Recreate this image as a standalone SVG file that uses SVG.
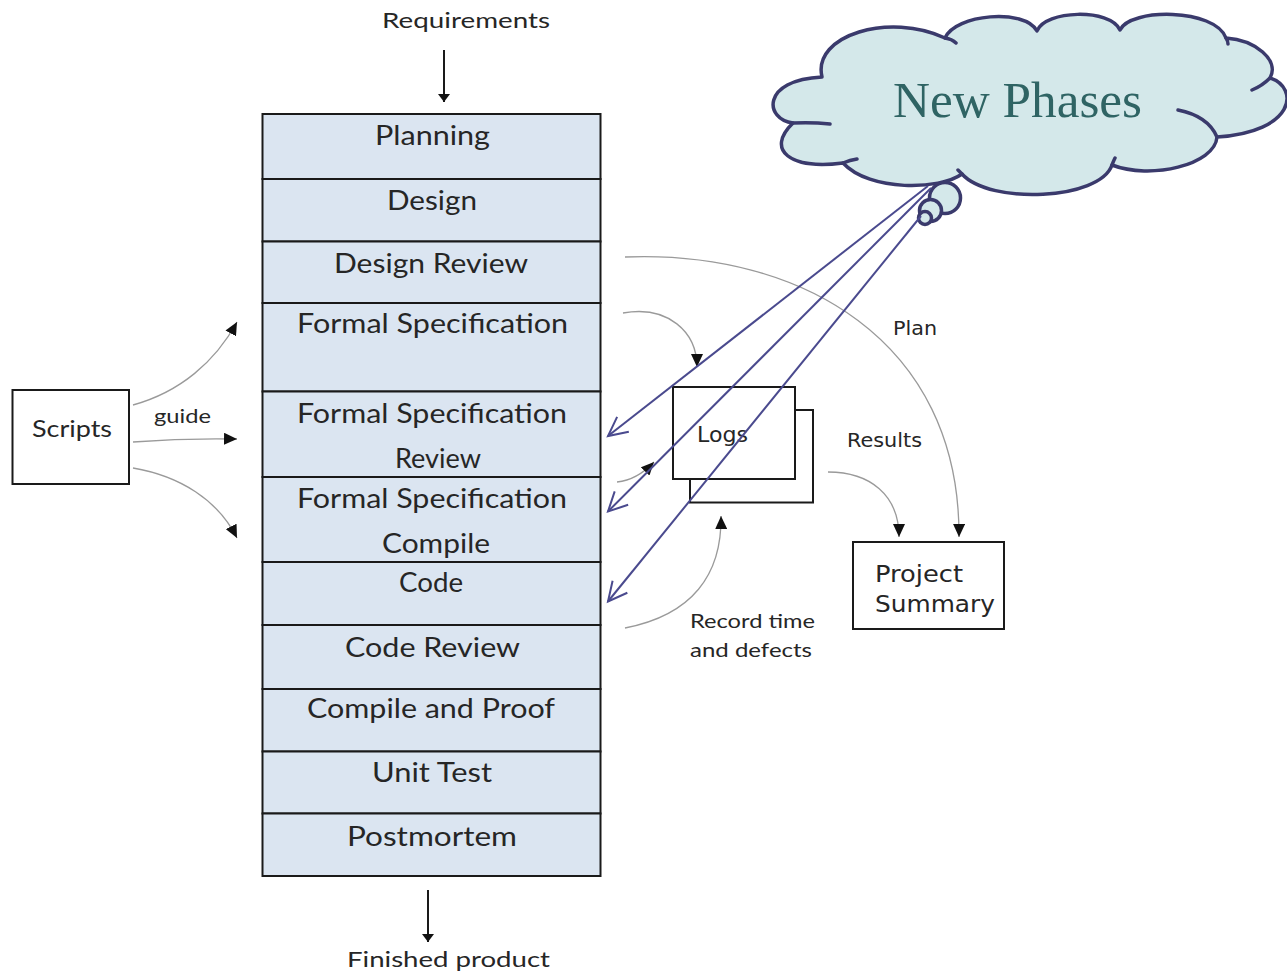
<svg xmlns="http://www.w3.org/2000/svg" width="1287" height="976" viewBox="0 0 1287 976">
  <style>
    .phase rect { fill: #dbe5f1; stroke: #1a1a1a; stroke-width: 2; }
    .lbl { font-family: Lato, "Liberation Sans", sans-serif; fill: #262626; }
    .ph { font-size: 26px; }
    .tah { font-family: "DejaVu Sans", Verdana, sans-serif; fill: #262626; }
    .box { fill: #ffffff; stroke: #1a1a1a; stroke-width: 2; }
    .thin { fill: none; stroke: #9a9a9a; stroke-width: 1.3; }
    .main { fill: none; stroke: #1a1a1a; stroke-width: 2; }
    .blue { fill: none; stroke: #4a4a8e; stroke-width: 2; }
    .cloud { fill: #d4e8ea; stroke: #3a3a6c; stroke-width: 3.5; stroke-linejoin: round; }
    .stub { fill: none; stroke: #3a3a6c; stroke-width: 3.5; stroke-linecap: round; }
  </style>
  <defs>
    <marker id="tri" markerUnits="userSpaceOnUse" markerWidth="14" markerHeight="12" refX="13" refY="6" orient="auto">
      <path d="M0,0 L13,6 L0,12 z" fill="#111"/>
    </marker>
    <marker id="dn" markerUnits="userSpaceOnUse" markerWidth="9" markerHeight="12" refX="8" refY="6" orient="auto">
      <path d="M0,0 L8,6 L0,12 z" fill="#111"/>
    </marker>
    <marker id="vee" markerUnits="userSpaceOnUse" markerWidth="24" markerHeight="24" refX="21" refY="12" orient="auto" overflow="visible">
      <path d="M2,2.5 L21,12 L2,21.5" fill="none" stroke="#4a4a8e" stroke-width="2"/>
    </marker>
  </defs>

  <rect width="1287" height="976" fill="#ffffff"/>

  <!-- process phases -->
  <g id="planning" class="phase">
    <rect x="262.5" y="114" width="338" height="65"/>
    <text class="lbl ph" x="375" y="145" textLength="115" lengthAdjust="spacingAndGlyphs">Planning</text>
  </g>
  <g id="design" class="phase">
    <rect x="262.5" y="179" width="338" height="62.5"/>
    <text class="lbl ph" x="387" y="210" textLength="90" lengthAdjust="spacingAndGlyphs">Design</text>
  </g>
  <g id="design-review" class="phase">
    <rect x="262.5" y="241.5" width="338" height="61.5"/>
    <text class="lbl ph" x="334" y="273" textLength="194" lengthAdjust="spacingAndGlyphs">Design Review</text>
  </g>
  <g id="formal-spec" class="phase">
    <rect x="262.5" y="303" width="338" height="88.5"/>
    <text class="lbl ph" x="297" y="333" textLength="271" lengthAdjust="spacingAndGlyphs">Formal Specification</text>
  </g>
  <g id="formal-spec-review" class="phase">
    <rect x="262.5" y="391.5" width="338" height="85.5"/>
    <text class="lbl ph" x="297" y="423" textLength="270" lengthAdjust="spacingAndGlyphs">Formal Specification</text>
    <text class="lbl ph" x="395" y="468" textLength="86" lengthAdjust="spacingAndGlyphs">Review</text>
  </g>
  <g id="formal-spec-compile" class="phase">
    <rect x="262.5" y="477" width="338" height="85"/>
    <text class="lbl ph" x="297" y="508" textLength="270" lengthAdjust="spacingAndGlyphs">Formal Specification</text>
    <text class="lbl ph" x="382" y="553" textLength="108" lengthAdjust="spacingAndGlyphs">Compile</text>
  </g>
  <g id="code" class="phase">
    <rect x="262.5" y="562" width="338" height="63"/>
    <text class="lbl ph" x="399" y="592" textLength="64" lengthAdjust="spacingAndGlyphs">Code</text>
  </g>
  <g id="code-review" class="phase">
    <rect x="262.5" y="625" width="338" height="64"/>
    <text class="lbl ph" x="345" y="657" textLength="175" lengthAdjust="spacingAndGlyphs">Code Review</text>
  </g>
  <g id="compile-proof" class="phase">
    <rect x="262.5" y="689" width="338" height="62.5"/>
    <text class="lbl ph" x="307" y="718" textLength="248" lengthAdjust="spacingAndGlyphs">Compile and Proof</text>
  </g>
  <g id="unit-test" class="phase">
    <rect x="262.5" y="751.5" width="338" height="62"/>
    <text class="lbl ph" x="372" y="782" textLength="120" lengthAdjust="spacingAndGlyphs">Unit Test</text>
  </g>
  <g id="postmortem" class="phase">
    <rect x="262.5" y="813.5" width="338" height="62.5"/>
    <text class="lbl ph" x="347" y="846" textLength="170" lengthAdjust="spacingAndGlyphs">Postmortem</text>
  </g>

  <!-- inputs and outputs -->
  <g id="requirements">
    <text class="lbl" font-size="21" x="382" y="28" textLength="168" lengthAdjust="spacingAndGlyphs">Requirements</text>
  </g>
  <g id="finished-product">
    <text class="lbl" font-size="21" x="347" y="967" textLength="203" lengthAdjust="spacingAndGlyphs">Finished product</text>
  </g>
  <g id="scripts">
    <rect class="box" x="12.5" y="390" width="116.5" height="94"/>
    <text class="lbl" font-size="24" x="32" y="437" textLength="80" lengthAdjust="spacingAndGlyphs">Scripts</text>
  </g>
  <g id="logs">
    <rect class="box" x="690" y="410" width="123" height="92.5"/>
    <rect class="box" x="673" y="387" width="122" height="92"/>
    <text class="tah" font-size="22" x="697" y="442" textLength="51" lengthAdjust="spacingAndGlyphs">Logs</text>
  </g>
  <g id="project-summary">
    <rect class="box" x="853" y="542" width="151" height="87"/>
    <text class="tah" font-size="23" x="875" y="582" textLength="88" lengthAdjust="spacingAndGlyphs">Project</text>
    <text class="tah" font-size="23" x="875" y="612" textLength="120" lengthAdjust="spacingAndGlyphs">Summary</text>
  </g>

  <!-- thought cloud -->
  <g id="new-phases">
    <circle class="cloud" cx="945" cy="198" r="15.5"/>
    <path class="cloud" d="M 822,77
      C 812,35 890,12 945,38
      C 955,14 1025,8 1037,31
      C 1045,10 1110,8 1120,30
      C 1130,8 1215,8 1226,38
      C 1255,40 1280,60 1270,78
      C 1300,88 1295,132 1217,137
      C 1215,165 1150,180 1112,165
      C 1100,200 990,205 962,174
      C 940,190 870,192 843,163
      C 790,170 765,150 793,123
      C 765,120 760,80 822,77 Z"/>
    <path class="stub" d="M 945,38 Q 952,39 956,43 M 1270,78 Q 1262,86 1252,90 M 1178,110 Q 1208,116 1217,137 M 1112,165 Q 1113,162 1115,158 M 962,174 Q 960,172 958,170 M 843,163 Q 850,160 857,159 M 793,123 Q 812,122 830,124 M 1226,38 Q 1228,41 1228,44"/>
    <circle class="cloud" cx="930.5" cy="210.5" r="11" stroke-width="3"/>
    <circle class="cloud" cx="925" cy="218" r="6.5" stroke-width="3"/>
    <text x="893" y="117" font-family="'Liberation Serif', 'Times New Roman', serif" font-size="50" fill="#2f6464" textLength="249" lengthAdjust="spacingAndGlyphs">New Phases</text>
  </g>

  <!-- connectors -->
  <g id="connectors">
    <path class="main" d="M 444,50 L 444,102" marker-end="url(#dn)"/>
    <path class="main" d="M 428,890 L 428,942" marker-end="url(#dn)"/>

    <path class="thin" d="M 133,405 C 180,392 215,362 237,322" marker-end="url(#tri)"/>
    <path class="thin" d="M 133,442 Q 185,438 237,439" marker-end="url(#tri)"/>
    <path class="thin" d="M 133,468 C 180,476 218,500 237,538" marker-end="url(#tri)"/>
    <text class="lbl" font-size="19" x="154" y="423" textLength="57" lengthAdjust="spacingAndGlyphs">guide</text>

    <path class="thin" d="M 625,257 C 800,250 960,340 959,537" marker-end="url(#tri)"/>
    <text class="tah" font-size="19" x="893" y="335" textLength="44" lengthAdjust="spacingAndGlyphs">Plan</text>

    <path class="thin" d="M 623,313 C 668,305 697,332 697,367" marker-end="url(#tri)"/>
    <path class="thin" d="M 617,482 Q 637,480 654,462" marker-end="url(#tri)"/>
    <path class="thin" d="M 625,628 C 692,615 722,575 721,516" marker-end="url(#tri)"/>
    <text class="lbl" font-size="20" x="690" y="628" textLength="125" lengthAdjust="spacingAndGlyphs">Record time</text>
    <text class="lbl" font-size="20" x="690" y="657" textLength="122" lengthAdjust="spacingAndGlyphs">and defects</text>

    <path class="thin" d="M 828,472 C 870,472 899,495 899,537" marker-end="url(#tri)"/>
    <text class="tah" font-size="19" x="847" y="447" textLength="75" lengthAdjust="spacingAndGlyphs">Results</text>

    <path class="blue" d="M 928,186 L 608,436" marker-end="url(#vee)"/>
    <path class="blue" d="M 931,188 L 608,511.5" marker-end="url(#vee)"/>
    <path class="blue" d="M 921,216 L 608,601.5" marker-end="url(#vee)"/>
  </g>
</svg>
